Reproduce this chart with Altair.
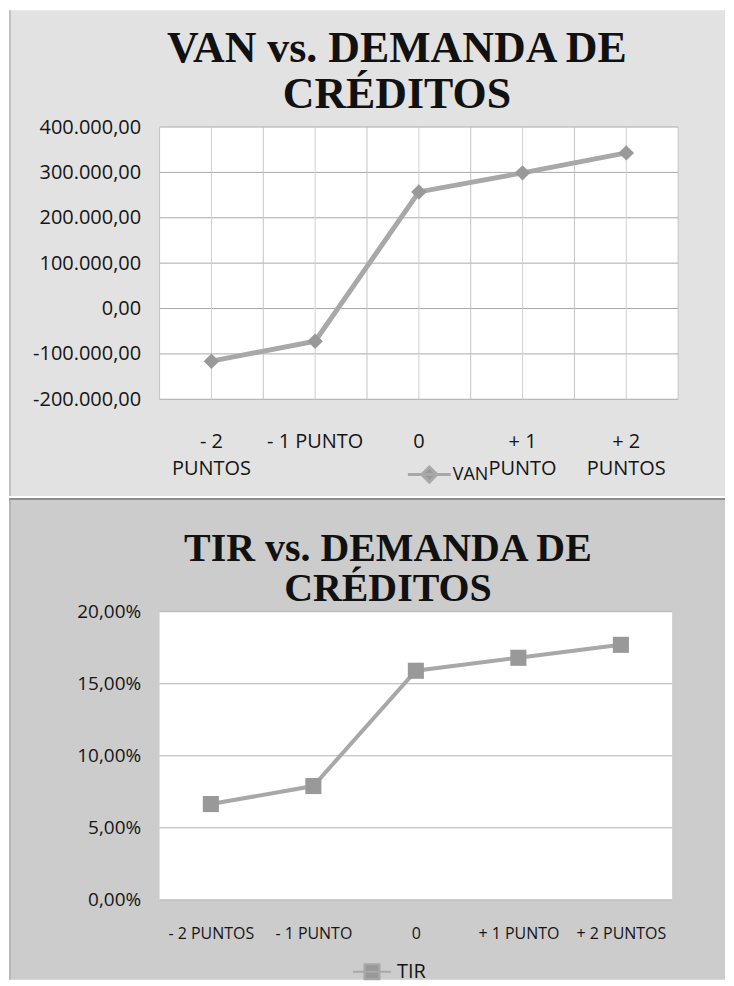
import altair as alt
import pandas as pd

# ---------------- data ----------------
categories = ["- 2 PUNTOS", "- 1 PUNTO", "0", "+ 1 PUNTO", "+ 2 PUNTOS"]
van_values = [-116000, -72000, 257000, 299000, 343000]
tir_values = [0.0665, 0.079, 0.159, 0.168, 0.177]
van_ticks = [-200000, -100000, 0, 100000, 200000, 300000, 400000]
tir_ticks = [0.0, 0.05, 0.10, 0.15, 0.20]
van_title = ["VAN vs. DEMANDA DE", "CRÉDITOS"]
tir_title = ["TIR vs. DEMANDA DE", "CRÉDITOS"]
van_series = "VAN"
tir_series = "TIR"

van_df = pd.DataFrame({"cat": categories, "val": van_values, "serie": van_series})
tir_df = pd.DataFrame({"cat": categories, "val": tir_values, "serie": tir_series})
van_tick_df = pd.DataFrame({"val": van_ticks})
tir_tick_df = pd.DataFrame({"val": tir_ticks})
cat_df = pd.DataFrame({"cat": categories})
one = pd.DataFrame({"a": [0]})

# ---------------- styles ----------------
TOP_BG = "#e2e2e2"
BOT_BG = "#cccccc"
LINE_C = "#a8a8a8"
MARK_C = "#999999"
TXT = "#151515"
FONT = "Open Sans"

LEFT = -151
RIGHT = 567   # total width 718 px (fits inside the page margins)

W1, H1 = 520, 273
W2, H2 = 514, 289

# ---------------- top chart (VAN) ----------------
x_scale1 = alt.Scale(domain=categories, paddingInner=0, paddingOuter=0)
y_scale1 = alt.Scale(domain=[-200000, 400000], nice=False, zero=False)

x_axis1 = alt.Axis(
    title=None, labelAngle=0, ticks=False, domain=False, grid=False,
    labelFont=FONT, labelFontSize=20, labelColor=TXT, labelPadding=32,
    labelLineHeight=27, labelOverlap=False, zindex=1,
    labelExpr="datum.label == '- 1 PUNTO' ? datum.label : split(replace(replace(datum.label, ' PUNTOS', '\\nPUNTOS'), ' PUNTO', '\\nPUNTO'), '\\n')",
)
y_axis1 = alt.Axis(
    title=None, values=van_ticks, ticks=False, domain=False, grid=False,
    labelFont=FONT, labelFontSize=20, labelColor=TXT, labelPadding=19, zindex=1,
    labelExpr="replace(replace(replace(replace(format(datum.value, ',.2f'), ',', '#'), '.', ','), '#', '.'), '\u2212', '-')",
)

X1 = dict(shorthand="cat:N", sort=categories, scale=x_scale1, axis=x_axis1)
Y1 = dict(shorthand="val:Q", scale=y_scale1, axis=y_axis1)

bg1 = alt.Chart(one).mark_rect(color=TOP_BG).encode(
    x=alt.value(LEFT), x2=alt.value(RIGHT), y=alt.value(-117), y2=alt.value(370))
border1 = alt.Chart(one).mark_rule(color="#a0a0a0", strokeWidth=1).encode(
    x=alt.value(LEFT + 1), y=alt.value(-117), y2=alt.value(370))
plot1 = alt.Chart(one).mark_rect(color="white").encode(
    x=alt.value(0), x2=alt.value(W1), y=alt.value(0), y2=alt.value(H1))
hgrid1 = alt.Chart(van_tick_df).mark_rule(color="#a9a9a9", strokeWidth=1).encode(
    y=alt.Y(**Y1))
vgrid1a = alt.Chart(cat_df).mark_rule(color="#c4c4c4", strokeWidth=1).encode(
    x=alt.X(bandPosition=0, **X1))
vgrid1b = alt.Chart(cat_df).mark_rule(color="#cfcfcf", strokeWidth=1).encode(
    x=alt.X(bandPosition=0.5, **X1))
vgrid1c = alt.Chart(one).mark_rule(color="#c4c4c4", strokeWidth=1).encode(
    x=alt.value(W1), y=alt.value(0), y2=alt.value(H1))

line1 = alt.Chart(van_df).mark_line(strokeWidth=5).encode(
    x=alt.X(**X1), y=alt.Y(**Y1),
    color=alt.Color("serie:N", scale=alt.Scale(domain=[van_series], range=[LINE_C]),
                    legend=alt.Legend(
                        title=None, orient="none", legendX=258, legendY=336,
                        symbolType="M-2,0L2,0M0,-0.7L0.7,0L0,0.7L-0.7,0Z",
                        symbolSize=462, symbolStrokeWidth=3,
                        symbolFillColor=MARK_C, symbolStrokeColor=LINE_C,
                        labelFont=FONT, labelFontSize=18, labelColor=TXT,
                        labelOffset=11, padding=0, zindex=1)))
pts1 = alt.Chart(van_df).mark_point(shape="diamond", filled=True, size=240,
                                     color=MARK_C, opacity=1).encode(
    x=alt.X(**X1), y=alt.Y(**Y1))

t1a = alt.Chart(one).mark_text(font="Liberation Serif", fontSize=44, fontWeight="bold",
                               color="#111111", align="center", baseline="alphabetic").encode(
    x=alt.value(238), y=alt.value(-65), text=alt.value(van_title[0]))
t1b = alt.Chart(one).mark_text(font="Liberation Serif", fontSize=44, fontWeight="bold",
                               color="#111111", align="center", baseline="alphabetic").encode(
    x=alt.value(238), y=alt.value(-19), text=alt.value(van_title[1]))

top = alt.layer(bg1, border1, plot1, hgrid1, vgrid1a, vgrid1b, vgrid1c,
                line1, pts1, t1a, t1b).properties(width=W1, height=H1)

# ---------------- bottom chart (TIR) ----------------
x_scale2 = alt.Scale(domain=categories, paddingInner=0, paddingOuter=0)
y_scale2 = alt.Scale(domain=[0, 0.2], nice=False, zero=False)

x_axis2 = alt.Axis(
    title=None, labelAngle=0, ticks=False, domain=False, grid=False,
    labelFont=FONT, labelFontSize=16, labelColor=TXT, labelPadding=26,
    labelOverlap=False, zindex=1)
y_axis2 = alt.Axis(
    title=None, values=tir_ticks, ticks=False, domain=False, grid=False,
    labelFont=FONT, labelFontSize=19, labelColor=TXT, labelPadding=19, zindex=1,
    labelExpr="replace(format(datum.value, '.2%'), '.', ',')")

X2 = dict(shorthand="cat:N", sort=categories, scale=x_scale2, axis=x_axis2)
Y2 = dict(shorthand="val:Q", scale=y_scale2, axis=y_axis2)

bg2 = alt.Chart(one).mark_rect(color=BOT_BG).encode(
    x=alt.value(LEFT), x2=alt.value(RIGHT), y=alt.value(-114), y2=alt.value(369))
sep2 = alt.Chart(one).mark_rule(color="#8c8c8c", strokeWidth=2).encode(
    x=alt.value(LEFT), x2=alt.value(RIGHT), y=alt.value(-113))
border2 = alt.Chart(one).mark_rule(color="#a0a0a0", strokeWidth=1).encode(
    x=alt.value(LEFT + 1), y=alt.value(-114), y2=alt.value(369))
plot2 = alt.Chart(one).mark_rect(color="white").encode(
    x=alt.value(0), x2=alt.value(W2), y=alt.value(0), y2=alt.value(H2))
hgrid2 = alt.Chart(tir_tick_df).mark_rule(color="#b4b4b4", strokeWidth=1).encode(
    y=alt.Y(**Y2))

line2 = alt.Chart(tir_df).mark_line(strokeWidth=4).encode(
    x=alt.X(**X2), y=alt.Y(**Y2),
    color=alt.Color("serie:N", scale=alt.Scale(domain=[tir_series], range=[LINE_C]),
                    legend=alt.Legend(
                        title=None, orient="none", legendX=203, legendY=351,
                        symbolType="M-2.375,0L2.375,0M-0.94,-0.94L0.94,-0.94L0.94,0.94L-0.94,0.94Z",
                        symbolSize=256, symbolStrokeWidth=2,
                        symbolFillColor=MARK_C, symbolStrokeColor=LINE_C,
                        labelFont=FONT, labelFontSize=20, labelColor=TXT,
                        labelOffset=15, padding=0, zindex=1)))
pts2 = alt.Chart(tir_df).mark_point(shape="square", filled=True, size=260,
                                     color=MARK_C, opacity=1).encode(
    x=alt.X(**X2), y=alt.Y(**Y2))

t2a = alt.Chart(one).mark_text(font="Liberation Serif", fontSize=40, fontWeight="bold",
                               color="#111111", align="center", baseline="alphabetic").encode(
    x=alt.value(229), y=alt.value(-51), text=alt.value(tir_title[0]))
t2b = alt.Chart(one).mark_text(font="Liberation Serif", fontSize=40, fontWeight="bold",
                               color="#111111", align="center", baseline="alphabetic").encode(
    x=alt.value(229), y=alt.value(-11), text=alt.value(tir_title[1]))

bottom = alt.layer(bg2, sep2, border2, plot2, hgrid2, line2, pts2, t2a, t2b).properties(
    width=W2, height=H2)

chart = alt.vconcat(top, bottom, spacing=0).resolve_scale(
    color="independent").resolve_legend(color="independent").properties(
    padding=0, background="white").configure_view(stroke=None)

chart.save("out.html", embed_options={"renderer": "svg", "actions": False})
